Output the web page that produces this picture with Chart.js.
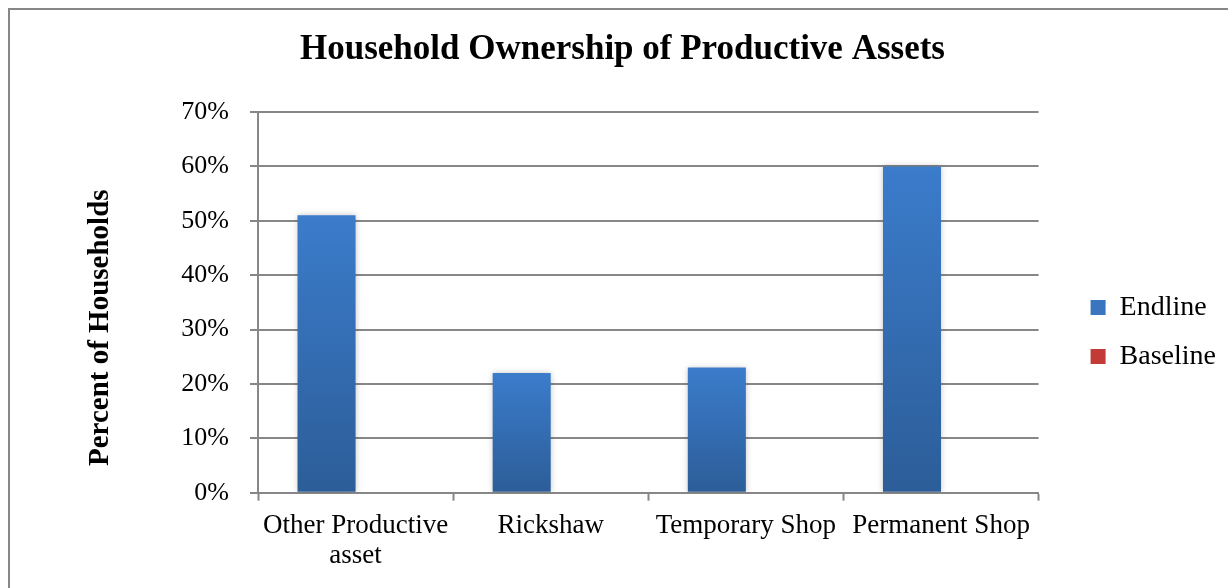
<!DOCTYPE html>
<html>
<head>
<meta charset="utf-8">
<script src="https://cdn.jsdelivr.net/npm/chart.js@4/dist/chart.umd.min.js"></script>
<style>
  html, body { margin: 0; padding: 0; background: #fff; overflow: hidden; }
  #frame {
    position: absolute; left: 8px; top: 8px;
    width: 1260px; height: 620px;
    border-left: 2px solid #878787; border-top: 2px solid #878787;
  }
  #wrap { position: absolute; left: 10px; top: 10px; width: 1218px; height: 578px; }
</style>
</head>
<body>
<div id="frame"></div>
<div id="wrap"><canvas id="chart"></canvas></div>
<script>
// chart values
var categories = [["Other Productive", "asset"], "Rickshaw", "Temporary Shop", "Permanent Shop"];
var endline = [51, 22, 23, 60];
var baseline = [0, 0, 0, 0];
var yTicks = [0, 10, 20, 30, 40, 50, 60, 70];

var serif = "'Liberation Serif', 'Times New Roman', serif";
var gridGray = "#878787";

// vertical gradient for each bar, light at top, dark at bottom
function barGradient(top, bottom) {
    return function(context) {
        var chart = context.chart;
        var area = chart.chartArea;
        if (!area) return top;
        var yScale = chart.scales.y;
        var yTop = yScale.getPixelForValue(context.raw);
        if (!isFinite(yTop) || yTop >= area.bottom - 1) return top;
        var g = chart.ctx.createLinearGradient(0, yTop, 0, area.bottom);
        g.addColorStop(0, top);
        g.addColorStop(1, bottom);
        return g;
    };
}

// soft shadow around bars
var barShadow = {
    id: 'barShadow',
    beforeDatasetsDraw: function(chart) {
        var ctx = chart.ctx;
        ctx.save();
        ctx.shadowColor = 'rgba(0,0,0,0.22)';
        ctx.shadowBlur = 6;
        ctx.shadowOffsetX = 0;
        ctx.shadowOffsetY = 0;
    },
    afterDatasetsDraw: function(chart) {
        chart.ctx.restore();
    }
};

var ctx = document.getElementById('chart').getContext('2d');
new Chart(ctx, {
    type: 'bar',
    data: {
        labels: categories,
        datasets: [
            {
                label: 'Endline',
                data: endline,
                backgroundColor: barGradient('#3b7ccb', '#2c5d98'),
                legendColor: '#3a76c0',
                borderWidth: 0,
                categoryPercentage: 0.595,
                barPercentage: 1.0
            },
            {
                label: 'Baseline',
                data: baseline,
                backgroundColor: barGradient('#d2423e', '#a12f2c'),
                legendColor: '#c33b37',
                borderWidth: 0,
                categoryPercentage: 0.595,
                barPercentage: 1.0
            }
        ]
    },
    options: {
        responsive: true,
        maintainAspectRatio: false,
        animation: false,
        layout: { padding: { left: 9, right: 2, top: 0, bottom: 7 } },
        plugins: {
            title: {
                display: true,
                text: 'Household Ownership of Productive Assets',
                color: '#000',
                font: { family: serif, size: 35, weight: 'bold' },
                padding: { top: 19, bottom: 41 }
            },
            legend: {
                position: 'right',
                // empty title only pushes the entries a bit lower
                title: { display: true, text: '', font: { size: 10 }, padding: { top: 61, bottom: 0 } },
                labels: {
                    color: '#000',
                    font: { family: serif, size: 28 },
                    boxWidth: 15,
                    boxHeight: 15,
                    padding: 21,
                    generateLabels: function(chart) {
                        return chart.data.datasets.map(function(ds, i) {
                            return {
                                text: ds.label,
                                fillStyle: ds.legendColor,
                                strokeStyle: ds.legendColor,
                                lineWidth: 0,
                                fontColor: '#000',
                                datasetIndex: i
                            };
                        });
                    }
                }
            },
            tooltip: { enabled: false }
        },
        scales: {
            x: {
                grid: {
                    drawOnChartArea: false,
                    drawTicks: true,
                    tickLength: 8,
                    tickWidth: 2,
                    tickColor: gridGray,
                    offset: true
                },
                border: { display: true, color: gridGray, width: 2 },
                ticks: {
                    color: '#000',
                    font: { family: serif, size: 27, lineHeight: 1.08 },
                    padding: 11,
                    maxRotation: 0,
                    autoSkip: false
                }
            },
            y: {
                min: 0,
                max: 70,
                afterBuildTicks: function(axis) {
                    axis.ticks = yTicks.map(function(v) { return { value: v }; });
                },
                afterFit: function(scale) { scale.width = 239; },
                grid: {
                    color: gridGray,
                    lineWidth: 2,
                    drawTicks: true,
                    tickLength: 8
                },
                border: { display: true, color: gridGray, width: 2 },
                ticks: {
                    color: '#000',
                    font: { family: serif, size: 26 },
                    padding: 21,
                    callback: function(v) { return v + '%'; }
                },
                title: {
                    display: true,
                    // trailing spaces move the words a little below the axis middle
                    text: 'Percent of Households       ',
                    color: '#000',
                    font: { family: serif, size: 29, weight: 'bold' },
                    padding: { top: 64, bottom: 40 }
                }
            },
            // blank right axis, keeps a gap between plot and legend
            gap: {
                type: 'linear',
                position: 'right',
                display: true,
                grid: { display: false },
                border: { display: false },
                ticks: { display: false },
                afterFit: function(scale) { scale.width = 31; }
            }
        }
    },
    plugins: [barShadow]
});
</script>
</body>
</html>
